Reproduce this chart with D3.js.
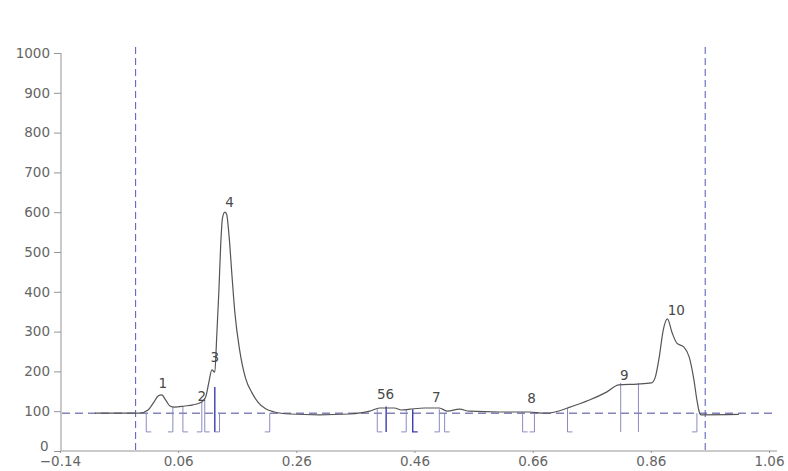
<!DOCTYPE html>
<html>
<head>
<meta charset="utf-8">
<script src="https://cdn.jsdelivr.net/npm/d3@7"></script>
<style>
  html, body { margin: 0; padding: 0; background: #ffffff; }
  svg { display: block; }
  text { font-family: "DejaVu Sans", Verdana, sans-serif; }
</style>
</head>
<body>
<svg id="chart" width="788" height="471"></svg>
<script>
// Axis ticks
const xTicks = [-0.14, 0.06, 0.26, 0.46, 0.66, 0.86, 1.06];
const yTicks = [0, 100, 200, 300, 400, 500, 600, 700, 800, 900, 1000];

// Detector trace: time vs. response
const traceTime = [-0.081, -0.005, 0.009, 0.019, 0.026, 0.032, 0.039, 0.046, 0.054, 0.071,
  0.085, 0.097, 0.102, 0.107, 0.112, 0.117, 0.122, 0.125, 0.129, 0.132,
  0.135, 0.139, 0.142, 0.146, 0.151, 0.156, 0.164, 0.174, 0.185, 0.195,
  0.208, 0.223, 0.249, 0.299, 0.350, 0.384, 0.401, 0.426, 0.438, 0.452,
  0.477, 0.502, 0.516, 0.536, 0.553, 0.604, 0.654, 0.680, 0.698, 0.719,
  0.756, 0.785, 0.806, 0.837, 0.861, 0.867, 0.874, 0.881, 0.888, 0.896,
  0.904, 0.916, 0.925, 0.933, 0.938, 0.942, 0.945, 1.009];
const traceValue = [95, 95, 103, 123, 138, 141, 128, 113, 110, 113,
  116, 121, 126, 138, 173, 204, 198, 279, 405, 518,
  585, 600, 595, 543, 442, 347, 254, 183, 146, 123,
  106, 98, 93, 91, 93, 100, 108, 108, 103, 105,
  108, 108, 100, 105, 100, 98, 98, 95, 98, 108,
  128, 148, 166, 168, 171, 183, 234, 304, 332, 297,
  271, 261, 236, 178, 128, 98, 91, 92];

// Integration baseline and analysis window
const baselineValue = 95;
const windowStart = -0.012;
const windowEnd = 0.952;

// Peak start/end markers
const markTime = [0.006, 0.051, 0.068, 0.100, 0.105, 0.122, 0.130, 0.215, 0.397, 0.412,
  0.446, 0.457, 0.502, 0.511, 0.643, 0.663, 0.719, 0.809, 0.839, 0.938];
const markTop = [95, 110, 113, 123, 130, 161, 95, 95, 105, 112,
  105, 105, 105, 95, 98, 95, 108, 171, 171, 95];
const markFoot = [1, -1, 1, -1, 1, 0, -1, -1, 1, 0,
  -1, 1, -1, 1, 1, -1, 1, 0, 0, -1];
const markSplit = [false, false, false, false, false, true, false, false, false, true,
  false, true, false, false, false, false, false, false, false, false];
const markBottom = 48;

// Peak numbers
const peakName = ["1", "2", "3", "4", "5", "6", "7", "8", "9", "10"];
const peakTime = [0.034, 0.100, 0.122, 0.147, 0.404, 0.418, 0.497, 0.658, 0.815, 0.903];
const peakLabelValue = [158, 126, 224, 613, 131, 131, 123, 121, 178, 342];

const svg = d3.select("#chart");

const x = d3.scaleLinear().domain([-0.14, 1.06]).range([60, 769]);
const y = d3.scaleLinear().domain([0, 1000]).range([451, 53]);

const axisColor = "#959595";
const textColor = "#656565";

// Y axis
const yAxis = svg.append("g")
  .attr("transform", `translate(${x(-0.14) + 1},0)`)
  .call(d3.axisLeft(y).tickValues(yTicks).tickFormat(d3.format("d")).tickSize(7).tickPadding(4));
yAxis.select(".domain").remove();
yAxis.selectAll(".tick line").attr("stroke", axisColor);
yAxis.selectAll(".tick text").attr("fill", textColor).style("font-size", "13.5px");
yAxis.selectAll(".tick").filter(d => d === 0).select("text")
  .attr("dy", "-0.05em").attr("dx", "-0.1em");

svg.append("line")
  .attr("x1", x(-0.14) + 1).attr("x2", x(-0.14) + 1)
  .attr("y1", y(1000)).attr("y2", y(0))
  .attr("stroke", axisColor).attr("stroke-width", 1);

// X axis
const xAxis = svg.append("g")
  .attr("transform", `translate(0,${y(0)})`)
  .call(d3.axisBottom(x).tickValues(xTicks).tickFormat(d3.format(".2f")).tickSize(2).tickPadding(3));
xAxis.select(".domain").remove();
xAxis.selectAll(".tick line").attr("stroke", axisColor);
xAxis.selectAll(".tick text").attr("fill", textColor).style("font-size", "13.5px");

svg.append("line")
  .attr("x1", x(-0.14) + 1).attr("x2", x(1.06) + 8)
  .attr("y1", y(0)).attr("y2", y(0))
  .attr("stroke", axisColor).attr("stroke-width", 1);

// Baseline (dashed)
svg.append("line")
  .attr("x1", x(-0.14) + 2).attr("x2", x(1.06) + 6)
  .attr("y1", y(baselineValue)).attr("y2", y(baselineValue))
  .attr("stroke", "#8484bd").attr("stroke-width", 1.6)
  .attr("stroke-dasharray", "8,5");

// Analysis window limits
[windowStart, windowEnd].forEach(t => {
  svg.append("line")
    .attr("x1", x(t)).attr("x2", x(t))
    .attr("y1", y(1000) - 6).attr("y2", y(0))
    .attr("stroke", "#5555bb").attr("stroke-width", 1)
    .attr("stroke-dasharray", "7,4");
});

// Peak markers
const marks = markTime.map((t, i) => ({ t, top: markTop[i], foot: markFoot[i], split: markSplit[i] }));
const markG = svg.append("g");
marks.forEach(m => {
  const px = x(m.t);
  const col = m.split ? "#3b3bad" : "#8a8ac2";
  markG.append("path")
    .attr("d", m.foot === 0
      ? `M${px},${y(m.top)}V${y(markBottom)}`
      : `M${px},${y(m.top)}V${y(markBottom)}h${m.foot * 5}`)
    .attr("fill", "none")
    .attr("stroke", col)
    .attr("stroke-width", m.split ? 1.4 : 1);
});

// Trace
const trace = traceTime.map((t, i) => [t, traceValue[i]]);
svg.append("path")
  .datum(trace)
  .attr("fill", "none")
  .attr("stroke", "#555555")
  .attr("stroke-width", 1.2)
  .attr("stroke-linejoin", "round")
  .attr("d", d3.line().x(d => x(d[0])).y(d => y(d[1])).curve(d3.curveMonotoneX));

// Peak numbers
svg.append("g").selectAll("text")
  .data(peakName)
  .join("text")
  .attr("x", (d, i) => x(peakTime[i]))
  .attr("y", (d, i) => y(peakLabelValue[i]))
  .attr("text-anchor", "middle")
  .attr("fill", "#484848")
  .style("font-size", "13.5px")
  .text(d => d);
</script>
</body>
</html>
